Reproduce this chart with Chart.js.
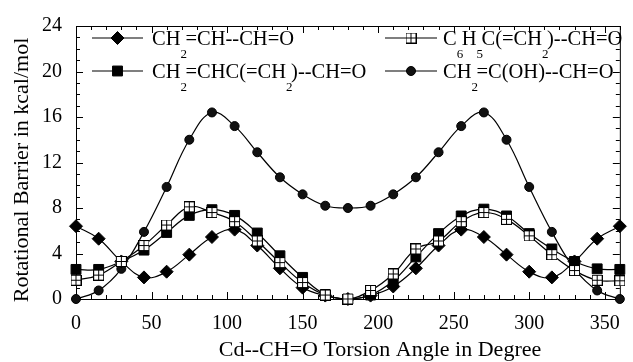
<!DOCTYPE html>
<html>
<head>
<meta charset="utf-8">
<script src="https://cdn.jsdelivr.net/npm/chart.js@4.4.0/dist/chart.umd.min.js"></script>
<style>
  html, body { margin: 0; padding: 0; background: #fff; }
</style>
</head>
<body>
<canvas id="barrierChart" width="633" height="362"></canvas>
<script>
// torsion angle (degree) and rotational barriers (kcal/mol)
const angles = [0, 15, 30, 45, 60, 75, 90, 105, 120, 135, 150, 165, 180,
                195, 210, 225, 240, 255, 270, 285, 300, 315, 330, 345, 360];

const acroleinBarrier = [6.4, 5.3, 3.3, 1.9, 2.4, 3.9, 5.45, 6.1, 4.7, 2.7, 1.0, 0.3, 0,
                         0.3, 1.1, 2.7, 4.7, 6.1, 5.45, 3.9, 2.4, 1.9, 3.3, 5.3, 6.4];
const dieneBarrier = [2.6, 2.6, 3.3, 4.3, 5.85, 7.35, 7.85, 7.35, 5.8, 3.8, 1.9, 0.4, 0,
                      0.35, 1.6, 3.7, 5.75, 7.3, 7.9, 7.3, 5.75, 4.4, 3.3, 2.65, 2.6];
const phenylBarrier = [1.65, 2.1, 3.3, 4.7, 6.5, 8.1, 7.6, 6.8, 5.1, 3.2, 1.45, 0.35, 0,
                       0.75, 2.2, 4.4, 5.1, 6.8, 7.6, 7.0, 5.55, 3.9, 2.5, 1.65, 1.6];
const enolBarrier = [0, 0.75, 2.65, 5.9, 9.85, 14.0, 16.4, 15.2, 12.9, 10.7, 9.2, 8.2, 8.0,
                     8.2, 9.2, 10.7, 12.9, 15.2, 16.4, 14.0, 9.85, 5.9, 2.65, 0.75, 0];

const xTicks = [0, 50, 100, 150, 200, 250, 300, 350];
const yTicks = [0, 4, 8, 12, 16, 20, 24];
const xMinorStep = 10;
const yMinorStep = 1;

// legend text pieces: [text, isSubscript]
const acroleinLabel = [['CH', 0], ['2', 1], ['=CH--CH=O', 0]];
const phenylLabel = [['C', 0], ['6', 1], ['H', 0], ['5', 1], ['C(=CH', 0], ['2', 1], [')--CH=O', 0]];
const dieneLabel = [['CH', 0], ['2', 1], ['=CHC(=CH', 0], ['2', 1], [')--CH=O', 0]];
const enolLabel = [['CH', 0], ['2', 1], ['=C(OH)--CH=O', 0]];

const xTitle = 'Cd--CH=O Torsion Angle in Degree';
const yTitle = 'Rotational Barrier in kcal/mol';

const FONT = '"Liberation Serif", "Times New Roman", serif';

function gridSquare(size) {
  const c = document.createElement('canvas');
  c.width = size; c.height = size;
  const g = c.getContext('2d');
  g.fillStyle = '#fff';
  g.fillRect(0, 0, size, size);
  g.strokeStyle = '#000';
  g.lineWidth = 1;
  g.strokeRect(0.5, 0.5, size - 1, size - 1);
  const m = Math.floor(size / 2) + 0.5;
  g.beginPath();
  g.moveTo(m, 0); g.lineTo(m, size);
  g.moveTo(0, m); g.lineTo(size, m);
  g.stroke();
  return c;
}
const openSquare = gridSquare(11);

function pts(vals) {
  return angles.map((a, i) => ({ x: a, y: vals[i] }));
}

function series(label, vals, style, radius, fill) {
  return {
    label: label,
    data: pts(vals),
    borderColor: '#000',
    borderWidth: 1.2,
    backgroundColor: fill,
    pointStyle: style,
    pointRadius: radius,
    pointBorderWidth: 1,
    tension: 0.4,
    clip: false,
    fill: false
  };
}

// dataset 0 is drawn on top
const datasets = [
  series('phenyl', phenylBarrier, openSquare, 6, '#fff'),
  series('diene', dieneBarrier, 'rect', 7, '#000'),
  series('acrolein', acroleinBarrier, 'rectRot', 6.5, '#000'),
  series('enol', enolBarrier, 'circle', 4.5, '#111')
];

const legendItems = [
  { ds: 2, text: acroleinLabel, col: 0, row: 0 },
  { ds: 0, text: phenylLabel, col: 1, row: 0 },
  { ds: 1, text: dieneLabel, col: 0, row: 1 },
  { ds: 3, text: enolLabel, col: 1, row: 1 }
];

function drawRich(ctx, parts, x, y) {
  ctx.textAlign = 'left';
  ctx.textBaseline = 'alphabetic';
  parts.forEach(p => {
    ctx.font = (p[1] ? '13px ' : '20.5px ') + FONT;
    ctx.fillText(p[0], x, p[1] ? y + 13 : y);
    x += ctx.measureText(p[0]).width - (p[1] ? 1.5 : 0);
  });
}

function marker(ctx, ds, x, y) {
  ctx.fillStyle = ds.backgroundColor;
  ctx.strokeStyle = ds.borderColor;
  ctx.lineWidth = ds.pointBorderWidth;
  Chart.helpers.drawPoint(ctx, { pointStyle: ds.pointStyle, radius: ds.pointRadius, rotation: 0, borderWidth: 1 }, x, y);
}

const framePlugin = {
  id: 'frame',
  beforeDatasetsDraw(chart) {
    const { ctx, chartArea: a, scales: { x, y } } = chart;
    ctx.save();
    ctx.strokeStyle = '#000';
    ctx.lineWidth = 1;
    ctx.strokeRect(a.left + 0.5, a.top + 0.5, a.right - a.left, a.bottom - a.top);
    ctx.beginPath();
    for (let v = x.min; v <= x.max; v += xMinorStep) {
      const px = Math.round(x.getPixelForValue(v)) + 0.5;
      const len = xTicks.includes(v) ? 7 : 4;
      ctx.moveTo(px, a.bottom); ctx.lineTo(px, a.bottom - len);
      ctx.moveTo(px, a.top); ctx.lineTo(px, a.top + len);
    }
    for (let v = y.min; v <= y.max; v += yMinorStep) {
      const py = Math.round(y.getPixelForValue(v)) + 0.5;
      const len = yTicks.includes(v) ? 7 : 4;
      ctx.moveTo(a.left, py); ctx.lineTo(a.left + len, py);
      ctx.moveTo(a.right, py); ctx.lineTo(a.right - len, py);
    }
    ctx.stroke();
    ctx.restore();
  },
  afterDraw(chart) {
    const { ctx } = chart;
    ctx.save();
    ctx.fillStyle = '#000';
    // axis titles
    ctx.font = '22px ' + FONT;
    ctx.textAlign = 'center';
    ctx.textBaseline = 'middle';
    ctx.fillText(xTitle, 380, 350);
    ctx.save();
    ctx.translate(28, 170);
    ctx.rotate(-Math.PI / 2);
    ctx.textBaseline = 'alphabetic';
    ctx.fillText(yTitle, 0, 0);
    ctx.restore();
    // legend
    const cols = [{ l: 92, r: 143, t: 152 }, { l: 385, r: 437, t: 443 }];
    const rows = [45, 78];
    legendItems.forEach(it => {
      const ds = chart.data.datasets[it.ds];
      const c = cols[it.col];
      const base = rows[it.row];
      const ly = base - 7;
      ctx.strokeStyle = '#000';
      ctx.lineWidth = 1.2;
      ctx.beginPath();
      ctx.moveTo(c.l, ly); ctx.lineTo(c.r, ly);
      ctx.stroke();
      marker(ctx, ds, (c.l + c.r) / 2, ly);
      ctx.fillStyle = '#000';
      drawRich(ctx, it.text, c.t, base);
    });
    ctx.restore();
  }
};

new Chart(document.getElementById('barrierChart'), {
  type: 'line',
  data: { datasets: datasets },
  options: {
    responsive: false,
    animation: false,
    events: [],
    devicePixelRatio: 1,
    layout: { padding: { top: 14, right: 10, left: 0, bottom: 0 } },
    plugins: { legend: { display: false }, tooltip: { enabled: false } },
    scales: {
      x: {
        type: 'linear',
        min: 0,
        max: 360,
        afterFit: s => { s.height = 63; },
        afterBuildTicks: s => { s.ticks = xTicks.map(v => ({ value: v })); },
        grid: { display: false, drawTicks: false },
        border: { display: false },
        ticks: { color: '#000', font: { family: FONT, size: 20 }, padding: 13, maxRotation: 0 }
      },
      y: {
        min: 0,
        max: 24,
        afterFit: s => { s.width = 76; },
        afterBuildTicks: s => { s.ticks = yTicks.map(v => ({ value: v })); },
        grid: { display: false, drawTicks: false },
        border: { display: false },
        ticks: { color: '#000', font: { family: FONT, size: 20 }, padding: 14 }
      }
    }
  },
  plugins: [framePlugin]
});
</script>
</body>
</html>
